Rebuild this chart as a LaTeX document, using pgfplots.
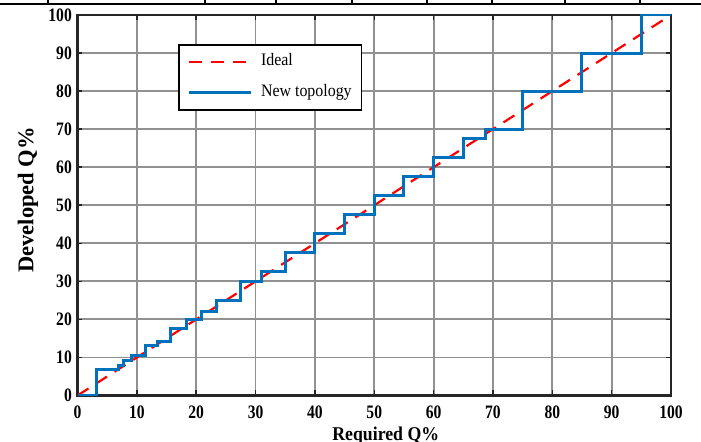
\documentclass[border=0pt]{standalone}
\usepackage{pgfplots}
\pgfplotsset{compat=1.18}
\usepackage{fontspec}
\setmainfont{Liberation Serif}
\newfontfamily\hfont{Liberation Serif}[FakeStretch=0.91]
\newfontfamily\tfont{Liberation Serif}[FakeStretch=0.82]
\definecolor{mblue}{RGB}{0,114,189}
\definecolor{gridgray}{RGB}{145,145,145}
\begin{document}
\begin{tikzpicture}
\useasboundingbox (0bp,0bp) rectangle (701bp,442bp);
\draw[line width=2.2bp] (0bp,438bp) -- (701bp,438bp);
\foreach \xx in {48,205,276,352,427,492,565,640}{
  \draw[line width=1.5bp] (\xx bp,438bp) -- (\xx bp,442bp);
}
\begin{axis}[
  at={(77.5bp,46.5bp)}, anchor=south west,
  scale only axis, width=593.5bp, height=380.5bp,
  xmin=0, xmax=100, ymin=0, ymax=100,
  xtick={0,10,...,100}, ytick={0,10,...,100},
  grid=major,
  major grid style={color=gridgray, line width=1.8bp},
  axis line style={color=black!85, line width=2.8bp},
  tick style={color=black!85, line width=1.5bp},
  major tick length=5bp,
  /pgf/number format/assume math mode=true,
  ticklabel style={font=\tfont\fontsize{19bp}{22bp}\selectfont\bfseries, inner sep=0pt},
  xticklabel style={anchor=base, yshift=-22.5bp},
  yticklabel style={anchor=east, xshift=-5.5bp},
  xlabel={Required Q\%},
  ylabel={Developed Q\%},
  xlabel style={font=\hfont\fontsize{19.5bp}{22bp}\selectfont\bfseries, at={(axis description cs:0.5,0)}, anchor=base, yshift=-44.5bp, xshift=11.5bp, inner sep=0pt},
  ylabel style={font=\fontsize{22.5bp}{26bp}\selectfont\bfseries, at={(axis description cs:-0.0834,0.514)}, anchor=center, inner sep=0pt},
  legend image code/.code={\draw[#1] (0bp,0bp) -- (62bp,0bp);},
  legend cell align=left,
  legend style={at={(rel axis cs:0.170,0.923)}, anchor=north west,
    draw=black, line width=1.3bp, fill=white,
    inner xsep=8bp, inner ysep=7.5bp, row sep=12bp, column sep=7bp,
    font=\hfont\fontsize{17.5bp}{20bp}\selectfont,
    nodes={inner sep=2bp, text height=11bp, text depth=4bp}},
]
\addplot[red, line width=2.2bp, dash pattern=on 13bp off 9bp] coordinates {(0,0) (100,100)};
\addlegendentry{Ideal}
\addplot[mblue, line width=3bp, const plot mark left] coordinates {
(0,0) (3.2,6.9) (6.9,8.0) (7.7,9.1) (9.1,10.4) (11.4,13.2) (13.5,14.1)
(15.6,17.5) (18.3,20) (20.9,22) (23.5,25) (27.5,30) (31,32.5) (35,37.5)
(40,42.5) (45,47.5) (50,52.5) (55,57.5) (60,62.5) (65,67.5) (68.8,70)
(75,80) (85,90) (95,100) (100,100)};
\addlegendentry{New topology}
\end{axis}
\end{tikzpicture}
\end{document}
